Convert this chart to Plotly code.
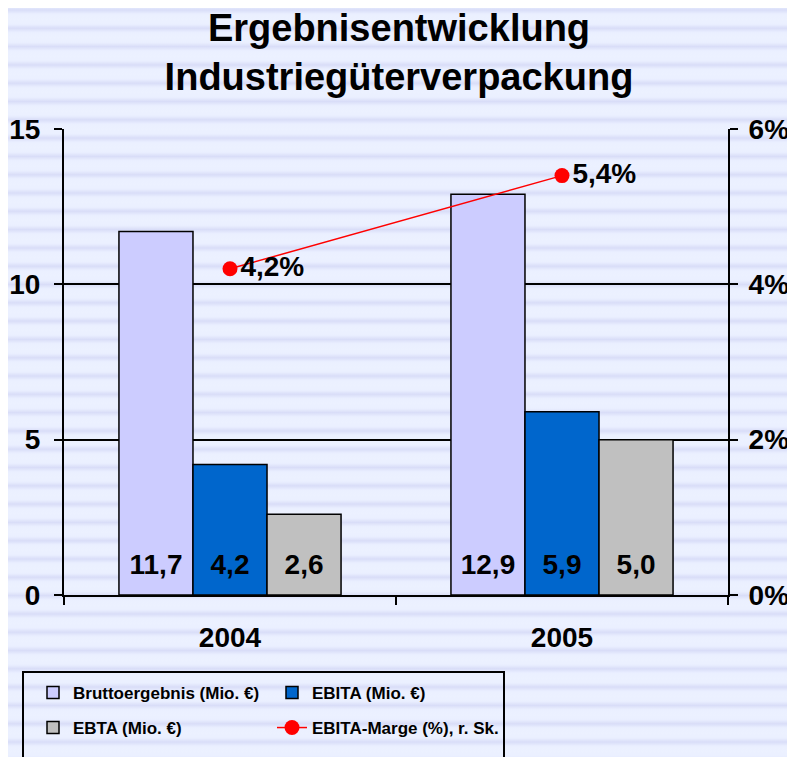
import base64
import plotly.graph_objects as go

years = ["2004", "2005"]
brutto = [11.7, 12.9]
ebita = [4.2, 5.9]
ebta = [2.6, 5.0]
marge = [4.2, 5.4]
pct_ticks = ["0%", "2%", "4%", "6%"]

names = ["Bruttoergebnis (Mio. €)", "EBITA (Mio. €)", "EBTA (Mio. €)",
         "EBITA-Marge (%), r. Sk."]

FONT = "Liberation Sans, Arial, sans-serif"

# the page has an 8px body margin, so the figure is 8px smaller
OFF = 8
W, H = 795 - OFF, 757 - OFF
L, R, T, B = 64 - OFF, 67, 129 - OFF, 162
PW, PH = W - L - R, H - T - B


# helpers: page pixel (as in the reference) -> paper coords
def px_x(p):
    return (p - OFF - L) / PW


def px_y(p):
    return (H - B - (p - OFF)) / PH


def stripes():
    # striped light blue background, as an svg image
    svg = (
        f'<svg xmlns="http://www.w3.org/2000/svg" width="{W}" height="{H}">'
        '<defs><linearGradient id="g" x1="0" y1="0" x2="0" y2="1">'
        '<stop offset="0" stop-color="#ECF1FF"/>'
        '<stop offset="0.28" stop-color="#EAEFFF"/>'
        '<stop offset="0.5" stop-color="#D9DDF8"/>'
        '<stop offset="0.72" stop-color="#EAEFFF"/>'
        '<stop offset="1" stop-color="#ECF1FF"/>'
        '</linearGradient>'
        f'<pattern id="p" x="0" y="-7.15" width="{W}" height="18.3" '
        'patternUnits="userSpaceOnUse">'
        f'<rect width="{W}" height="18.3" fill="url(#g)"/></pattern></defs>'
        f'<rect width="{W}" height="{H}" fill="url(#p)"/></svg>'
    )
    return "data:image/svg+xml;base64," + base64.b64encode(svg.encode()).decode()


bar_text = ("<span style='font-size:28px'>%{y:.1f}</span>"
            "<br><span style='font-size:1px'>.</span>")

fig = go.Figure()
for vals, name, color, leg in [(brutto, names[0], "#CCCCFF", "legend"),
                               (ebita, names[1], "#0066CC", "legend"),
                               (ebta, names[2], "#C0C0C0", "legend2")]:
    fig.add_trace(go.Bar(
        x=years, y=vals, name=name, legend=leg,
        marker=dict(color=color, line=dict(color="black", width=1.5)),
        texttemplate=bar_text, textposition="inside", insidetextanchor="start",
        textfont=dict(family=FONT, size=14, color="black", weight="bold"),
        constraintext="none",
    ))

fig.add_trace(go.Scatter(
    x=years, y=marge, name=names[3], legend="legend2", yaxis="y2",
    mode="lines+markers+text", texttemplate="%{y:.1f}%",
    textposition="middle right",
    textfont=dict(family=FONT, size=28, color="black", weight="bold"),
    line=dict(color="#FF0000", width=1.5),
    marker=dict(color="#FF0000", size=15),
))

axis_font = dict(family=FONT, size=28, color="black", weight="bold")
legend_common = dict(
    orientation="h", xanchor="left", yanchor="middle",
    x=px_x(33), entrywidth=194, bgcolor="rgba(0,0,0,0)",
    font=dict(family=FONT, size=17, color="black", weight="bold"),
)

fig.update_layout(
    width=W, height=H,
    margin=dict(l=L, r=R, t=T, b=B, autoexpand=False),
    separators=",.",
    paper_bgcolor="#EBF0FF",
    plot_bgcolor="rgba(0,0,0,0)",
    barmode="group", bargap=0.331, bargroupgap=0,
    title=dict(
        text="Ergebnisentwicklung<br>Industriegüterverpackung",
        x=(399 - OFF) / W, xanchor="center", y=0.956, yanchor="top",
        font=dict(family=FONT, size=38, color="black", weight="bold"),
    ),
    xaxis=dict(
        type="category", showline=True, linecolor="black", linewidth=2,
        ticks="outside", tickson="boundaries", ticklen=8, tickwidth=2,
        tickcolor="black", tickfont=axis_font, ticklabelstandoff=16,
    ),
    yaxis=dict(
        range=[0, 15], tickvals=[0, 5, 10, 15], showline=True,
        linecolor="black", linewidth=2, showgrid=True, gridcolor="black",
        gridwidth=2, zeroline=False, ticks="outside", ticklen=8, tickwidth=2,
        tickcolor="black", tickfont=axis_font, ticklabelstandoff=8,
    ),
    yaxis2=dict(
        range=[0, 6], tickvals=[0, 2, 4, 6], ticktext=pct_ticks,
        overlaying="y", side="right", showline=True, linecolor="black",
        linewidth=2, showgrid=False, zeroline=False, ticks="outside",
        ticklen=8, tickwidth=2, tickcolor="black", tickfont=axis_font,
        ticklabelstandoff=5,
    ),
    legend=dict(y=px_y(693), **legend_common),
    legend2=dict(y=px_y(728), **legend_common),
    images=[dict(
        source=stripes(), xref="paper", yref="paper",
        x=px_x(OFF), y=px_y(OFF), sizex=W / PW, sizey=H / PH,
        xanchor="left", yanchor="top", sizing="stretch", layer="below",
    )],
    shapes=[dict(
        type="rect", xref="paper", yref="paper",
        x0=px_x(23), x1=px_x(504), y0=px_y(672), y1=px_y(780),
        line=dict(color="black", width=2), fillcolor="rgba(0,0,0,0)",
    )],
)

fig.write_html("out.html")
